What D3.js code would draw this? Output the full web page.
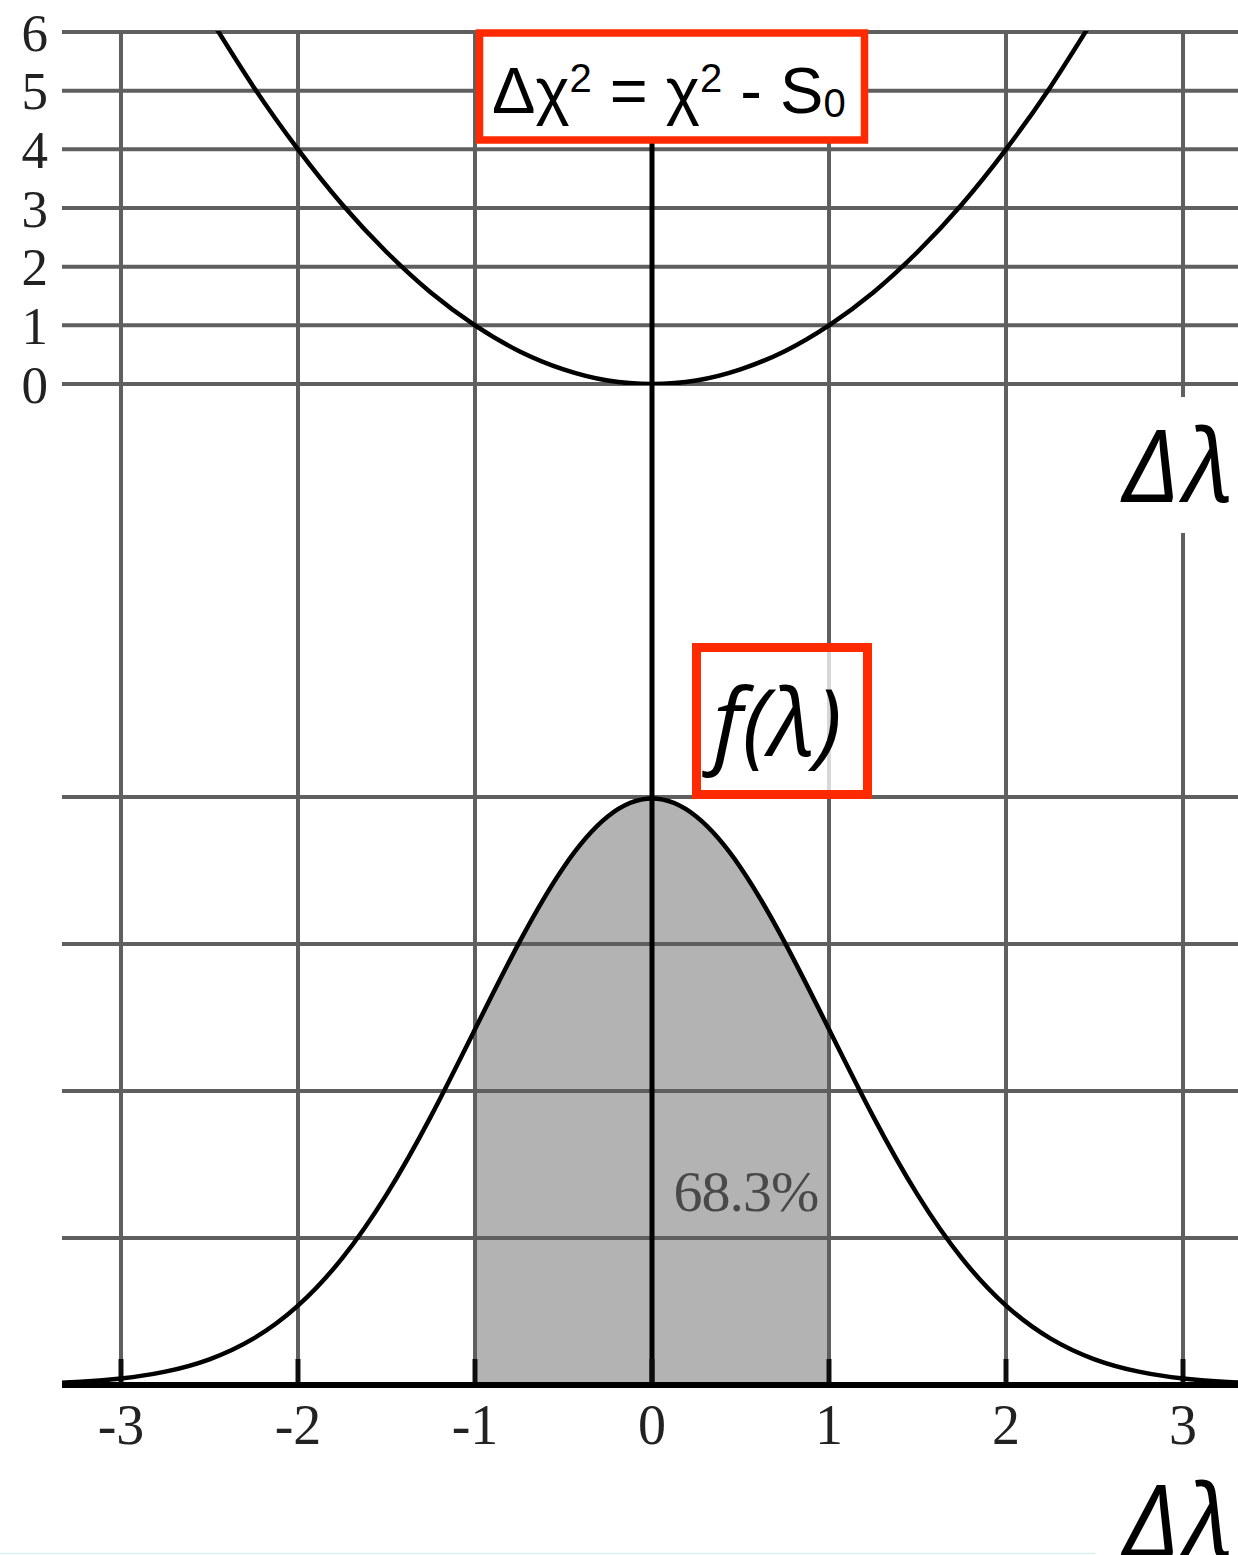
<!DOCTYPE html>
<html>
<head>
<meta charset="utf-8">
<script src="https://cdn.jsdelivr.net/npm/d3@7"></script>
<style>
  html, body { margin: 0; padding: 0; background: #fff; }
  svg { display: block; }
</style>
</head>
<body>
<svg id="chart" width="1238" height="1555"></svg>
<script>
// Tick values on the shared Δλ axis and the two stacked panels
const lambdaTicks = [-3, -2, -1, 0, 1, 2, 3];
const chiTicks = [0, 1, 2, 3, 4, 5, 6];
const densityGrid = [0.1, 0.2, 0.3, 0.4];

// Δχ² curve, sampled at these Δλ values
const chiLambda = [-2.5, -2.25, -2, -1.75, -1.5, -1.25, -1, -0.75, -0.5, -0.25, 0,
                   0.25, 0.5, 0.75, 1, 1.25, 1.5, 1.75, 2, 2.25, 2.5];
const chiValues = [6.25, 5.06, 4, 3.06, 2.25, 1.56, 1, 0.56, 0.25, 0.06, 0,
                   0.06, 0.25, 0.56, 1, 1.56, 2.25, 3.06, 4, 5.06, 6.25];

// f(λ) density curve, sampled at these Δλ values
const densLambda = [-3.5, -3.25, -3, -2.75, -2.5, -2.25, -2, -1.75, -1.5, -1.25, -1,
                    -0.75, -0.5, -0.25, 0, 0.25, 0.5, 0.75, 1, 1.25, 1.5, 1.75,
                    2, 2.25, 2.5, 2.75, 3, 3.25, 3.5];
const densValues = [0.0009, 0.0020, 0.0044, 0.0091, 0.0175, 0.0317, 0.0540, 0.0863,
                    0.1295, 0.1826, 0.2420, 0.3011, 0.3521, 0.3867, 0.3989, 0.3867,
                    0.3521, 0.3011, 0.2420, 0.1826, 0.1295, 0.0863, 0.0540, 0.0317,
                    0.0175, 0.0091, 0.0044, 0.0020, 0.0009];

// Shaded interval and its label
const bandRange = [-1, 1];
const bandLabel = "68.3%";

const svg = d3.select("#chart");
const W = 1238, H = 1555;

const x = d3.scaleLinear().domain([-3, 3]).range([121, 1183]);
const yTop = d3.scaleLinear().domain([0, 6]).range([384, 32]);
const yBot = d3.scaleLinear().domain([0, 0.4]).range([1385, 797]);
const xLeft = 62, xRight = W;

const defs = svg.append("defs");
defs.append("filter").attr("id", "soft")
  .append("feGaussianBlur").attr("stdDeviation", 0.6);
defs.append("clipPath").attr("id", "topClip")
  .append("rect").attr("x", xLeft).attr("y", yTop(6) - 1)
  .attr("width", xRight - xLeft).attr("height", yTop(0) - yTop(6) + 2);
defs.append("clipPath").attr("id", "botClip")
  .append("rect").attr("x", xLeft).attr("y", yBot(0.45))
  .attr("width", xRight - xLeft).attr("height", yBot(0) - yBot(0.45) + 3);

svg.append("rect").attr("width", W).attr("height", H).attr("fill", "#fff");

const base = svg.append("g").attr("filter", "url(#soft)");

const chiPts = chiLambda.map((l, i) => [l, chiValues[i]]);
const densPts = densLambda.map((l, i) => [l, densValues[i]]);
const bandPts = densPts.filter(d => d[0] >= bandRange[0] && d[0] <= bandRange[1]);

// shaded 68.3% area
base.append("path")
  .datum(bandPts)
  .attr("d", d3.area().x(d => x(d[0])).y0(yBot(0)).y1(d => yBot(d[1])).curve(d3.curveNatural))
  .attr("fill", "#b3b3b3");

const gridColor = "#5e5e5e";
const gridWidth = 4;

// horizontal grid, upper panel
base.append("g").selectAll("line").data(chiTicks).join("line")
  .attr("x1", xLeft).attr("x2", xRight)
  .attr("y1", d => yTop(d)).attr("y2", d => yTop(d))
  .attr("stroke", gridColor).attr("stroke-width", gridWidth);

// horizontal grid, lower panel
base.append("g").selectAll("line").data(densityGrid).join("line")
  .attr("x1", xLeft).attr("x2", xRight)
  .attr("y1", d => yBot(d)).attr("y2", d => yBot(d))
  .attr("stroke", gridColor).attr("stroke-width", gridWidth);

// vertical grid spanning both panels
base.append("g").selectAll("line").data(lambdaTicks.filter(d => d !== 0)).join("line")
  .attr("x1", d => x(d)).attr("x2", d => x(d))
  .attr("y1", yTop(6) - 2).attr("y2", yBot(0))
  .attr("stroke", gridColor).attr("stroke-width", gridWidth);

// zero line
base.append("line")
  .attr("x1", x(0)).attr("x2", x(0))
  .attr("y1", yTop(6) - 2).attr("y2", yBot(0))
  .attr("stroke", "#000").attr("stroke-width", 5);

// inward tick marks on the Δλ axis
base.append("g").selectAll("line").data(lambdaTicks).join("line")
  .attr("x1", d => x(d)).attr("x2", d => x(d))
  .attr("y1", yBot(0) - 26).attr("y2", yBot(0))
  .attr("stroke", "#111").attr("stroke-width", 5);

// Δλ axis line
base.append("line")
  .attr("x1", xLeft).attr("x2", xRight)
  .attr("y1", yBot(0)).attr("y2", yBot(0))
  .attr("stroke", "#000").attr("stroke-width", 6);

// Δχ² parabola
base.append("path")
  .datum(chiPts)
  .attr("clip-path", "url(#topClip)")
  .attr("d", d3.line().x(d => x(d[0])).y(d => yTop(d[1])).curve(d3.curveNatural))
  .attr("fill", "none").attr("stroke", "#000").attr("stroke-width", 4.5);

// f(λ) density curve
base.append("path")
  .datum(densPts)
  .attr("clip-path", "url(#botClip)")
  .attr("d", d3.line().x(d => x(d[0])).y(d => yBot(d[1])).curve(d3.curveNatural))
  .attr("fill", "none").attr("stroke", "#000").attr("stroke-width", 4.5);

// tick labels
base.append("g").selectAll("text").data(chiTicks).join("text")
  .attr("x", 48).attr("y", d => yTop(d)).attr("dy", "0.35em")
  .attr("text-anchor", "end")
  .attr("font-family", "'Liberation Serif', 'Times New Roman', serif")
  .attr("font-size", 53).attr("fill", "#222")
  .text(d => d);

base.append("g").selectAll("text").data(lambdaTicks).join("text")
  .attr("x", d => x(d)).attr("y", 1444)
  .attr("text-anchor", "middle")
  .attr("font-family", "'Liberation Serif', 'Times New Roman', serif")
  .attr("font-size", 56).attr("fill", "#222")
  .text(d => d < 0 ? "-" + Math.abs(d) : String(d));

base.append("text")
  .attr("x", 746).attr("y", 1211)
  .attr("text-anchor", "middle")
  .attr("font-family", "'Liberation Serif', 'Times New Roman', serif")
  .attr("font-size", 58).attr("fill", "#4a4a4a")
  .attr("letter-spacing", -1)
  .text(bandLabel);

// faint rule along the bottom edge
svg.append("line").attr("x1", 0).attr("x2", 1095).attr("y1", 1553.5).attr("y2", 1553.5)
  .attr("stroke", "#dcefef").attr("stroke-width", 1.5);

const red = "#ff2a00";

// Δχ² formula box
svg.append("rect")
  .attr("x", 479.5).attr("y", 33).attr("width", 385).attr("height", 107)
  .attr("fill", "#fff").attr("stroke", red).attr("stroke-width", 7.5);
const eq = svg.append("text")
  .attr("x", 492).attr("y", 113)
  .attr("font-family", "'Liberation Sans', Arial, Helvetica, sans-serif")
  .attr("font-size", 65).attr("fill", "#000");
eq.append("tspan").text("Δχ");
eq.append("tspan").attr("font-size", 40).attr("dy", -21).text("2");
eq.append("tspan").attr("dy", 21).text(" = χ");
eq.append("tspan").attr("font-size", 40).attr("dy", -21).text("2");
eq.append("tspan").attr("dy", 21).text(" - S");
eq.append("tspan").attr("font-size", 40).attr("dy", 4).text("0");

// f(λ) box
svg.append("rect")
  .attr("x", 696.5).attr("y", 647.5).attr("width", 171).attr("height", 147)
  .attr("fill", "#fff").attr("fill-opacity", 0.75)
  .attr("stroke", red).attr("stroke-width", 9);
svg.append("text")
  .attr("x", 713).attr("y", 756)
  .attr("font-family", "'Open Sans', sans-serif").attr("font-style", "italic")
  .attr("font-size", 94).attr("fill", "#000")
  .text("f(λ)");

// Δλ axis titles
svg.append("rect").attr("x", 1033).attr("y", 397).attr("width", W - 1033).attr("height", 136)
  .attr("fill", "#fff");
svg.append("text")
  .attr("x", 1238).attr("y", 502).attr("text-anchor", "end")
  .attr("font-family", "'Open Sans', sans-serif").attr("font-style", "italic")
  .attr("font-size", 100).attr("letter-spacing", 5).attr("fill", "#000")
  .text("Δλ");
svg.append("text")
  .attr("x", 1238).attr("y", 1557).attr("text-anchor", "end")
  .attr("font-family", "'Open Sans', sans-serif").attr("font-style", "italic")
  .attr("font-size", 100).attr("letter-spacing", 5).attr("fill", "#000")
  .text("Δλ");
</script>
</body>
</html>
